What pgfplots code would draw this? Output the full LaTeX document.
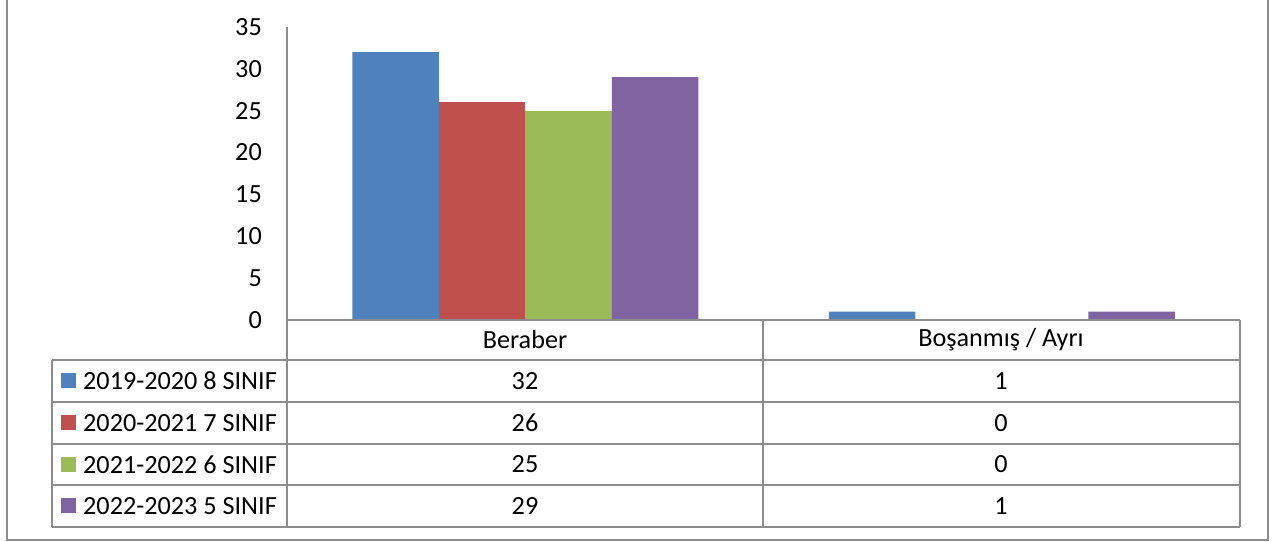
\documentclass[border=0pt]{standalone}
\usepackage{pgfplots}
\pgfplotsset{compat=1.18}
\usepackage{fontspec}
\setmainfont{Carlito}
\definecolor{cBlue}{HTML}{4F81BD}
\definecolor{cRed}{HTML}{C0504D}
\definecolor{cGreen}{HTML}{9BBB59}
\definecolor{cPurple}{HTML}{8064A2}
\definecolor{lineGray}{HTML}{8C8C8C}
\begin{document}
\fontsize{26.3}{30}\selectfont
\begin{tikzpicture}[x=1bp,y=1bp]
\useasboundingbox (0,0) rectangle (1276,542);
\draw[lineGray, line width=1.5bp] (7,542) -- (7,2) -- (1268,2) -- (1268,542);
\begin{axis}[
  at={(287bp,222bp)}, anchor=south west,
  scale only axis, width=953bp, height=293bp,
  xmin=0, xmax=2, ymin=0, ymax=35,
  ybar=0pt, bar width=86.5bp,
  axis x line=none, axis y line=left,
  y axis line style={-, draw=lineGray, line width=1.5bp},
  ytick={0,5,...,35}, major tick length=0pt,
  yticklabel style={anchor=east, inner sep=0pt, xshift=-25bp, font=\fontsize{26.3}{30}\selectfont},
  /pgf/number format/assume math mode=true,
  xtick=\empty,
  clip=false,
  unbounded coords=discard,
  y filter/.expression={y==0 ? nan : y},
]
\addplot[fill=cBlue, draw=none] coordinates {(0.5,32) (1.5,1)};
\addplot[fill=cRed, draw=none] coordinates {(0.5,26) (1.5,0)};
\addplot[fill=cGreen, draw=none] coordinates {(0.5,25) (1.5,0)};
\addplot[fill=cPurple, draw=none] coordinates {(0.5,29) (1.5,1)};
\end{axis}
% data table grid
\begin{scope}[lineGray, line width=2bp]
\draw (287,222) -- (1240,222);
\draw (52,182) -- (1240,182);
\draw (52,140) -- (1240,140);
\draw (52,98) -- (1240,98);
\draw (52,57) -- (1240,57);
\draw (52,15) -- (1240,15);
\draw (52,182) -- (52,15);
\draw (287,222) -- (287,15);
\draw (763,222) -- (763,15);
\draw (1240,222) -- (1240,15);
\end{scope}
\node at (525,202) {Beraber};
\node at (1001,202) {Boşanmış / Ayrı};
\fill[cBlue] (61,153.5) rectangle (76,168.5);
\fill[cRed] (61,111.5) rectangle (76,126.5);
\fill[cGreen] (61,70) rectangle (76,85);
\fill[cPurple] (61,28.5) rectangle (76,43.5);
\node[anchor=west, inner sep=0pt] at (83,161) {2019-2020 8 SINIF};
\node[anchor=west, inner sep=0pt] at (83,119) {2020-2021 7 SINIF};
\node[anchor=west, inner sep=0pt] at (83,77.5) {2021-2022 6 SINIF};
\node[anchor=west, inner sep=0pt] at (83,36) {2022-2023 5 SINIF};
\node at (525,161) {32};
\node at (525,119) {26};
\node at (525,77.5) {25};
\node at (525,36) {29};
\node at (1001,161) {1};
\node at (1001,119) {0};
\node at (1001,77.5) {0};
\node at (1001,36) {1};
\end{tikzpicture}
\end{document}
